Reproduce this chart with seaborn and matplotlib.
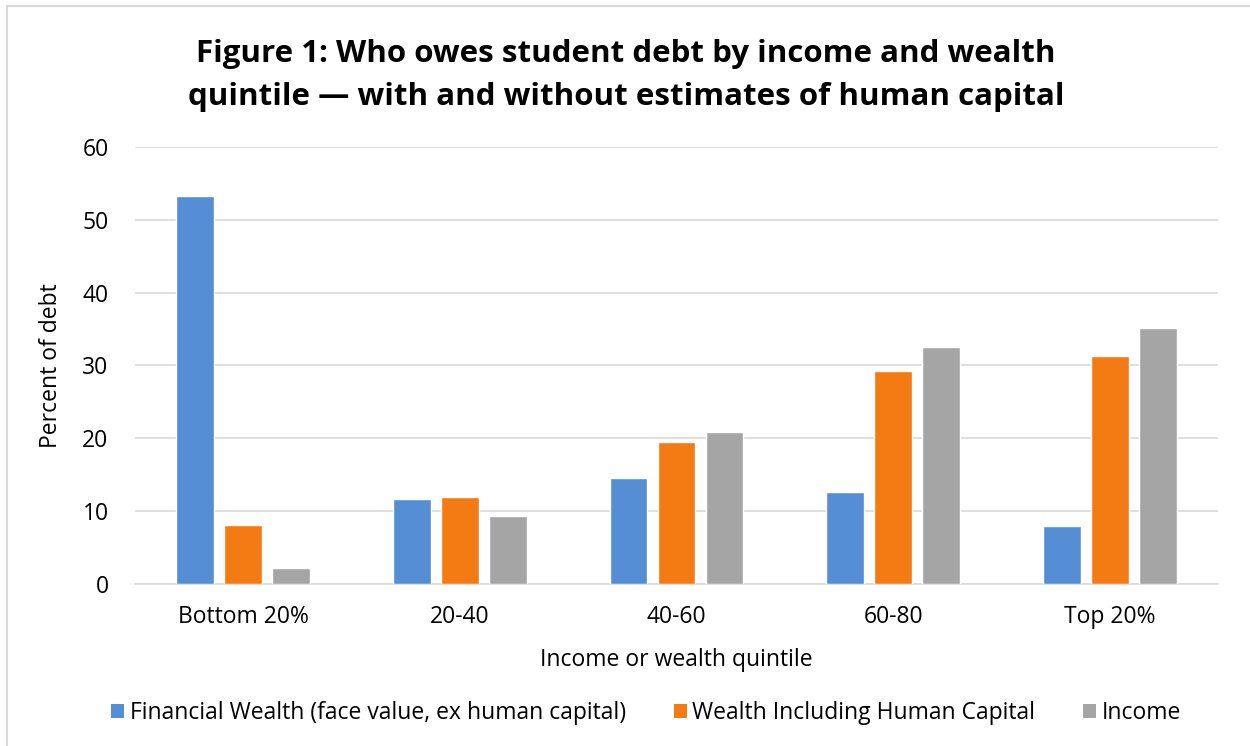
import numpy as np
import pandas as pd
import seaborn as sns
import matplotlib.pyplot as plt
from matplotlib.patches import Patch
from matplotlib.lines import Line2D

quintiles = ["Bottom 20%", "20-40", "40-60", "60-80", "Top 20%"]
series_names = [
    "Financial Wealth (face value, ex human capital)",
    "Wealth Including Human Capital",
    "Income",
]
financial_wealth = [53.3, 11.7, 14.6, 12.6, 8.0]
wealth_incl_hc = [8.1, 11.9, 19.5, 29.3, 31.3]
income = [2.2, 9.3, 20.9, 32.6, 35.2]
colors = ["#558ED5", "#F47A14", "#A5A5A5"]

df = pd.DataFrame({
    "quintile": quintiles * 3,
    "series": np.repeat(series_names, len(quintiles)),
    "value": financial_wealth + wealth_incl_hc + income,
})

sns.set_theme(style="white")
plt.rcParams["font.family"] = ["Open Sans", "DejaVu Sans"]
plt.rcParams["text.color"] = "black"
plt.rcParams["axes.labelcolor"] = "black"

fig = plt.figure(figsize=(12.5, 7.46), dpi=100)
ax = fig.add_axes([0.108, 0.2172, 0.8664, 0.5858])

sns.barplot(data=df, x="quintile", y="value", hue="series", order=quintiles,
            hue_order=series_names, palette=colors, width=0.665, gap=0.21,
            saturation=1, legend=False, ax=ax, zorder=3)

ax.set_ylim(0, 60)
ax.set_yticks(range(0, 61, 10))
ax.yaxis.grid(True, color="#D9D9D9", linewidth=1.2, zorder=0)
ax.set_axisbelow(True)
for s in ["top", "right", "left"]:
    ax.spines[s].set_visible(False)
ax.spines["bottom"].set_color("#D9D9D9")
ax.spines["bottom"].set_linewidth(1.2)
ax.tick_params(axis="both", length=0, labelsize=16.5, colors="black")
ax.tick_params(axis="x", pad=15)
ax.tick_params(axis="y", pad=19)
ax.set_xlabel("Income or wealth quintile", fontsize=16.5, labelpad=14)
ax.set_ylabel("Percent of debt", fontsize=16.5, labelpad=14)

fig.text(0.501, 0.899, "Figure 1: Who owes student debt by income and wealth\n"
         "quintile \u2014 with and without estimates of human capital",
         ha="center", va="center", fontsize=22.5, fontweight="bold",
         linespacing=1.55)

handles = [Patch(facecolor=c, edgecolor="none") for c in colors]
fig.legend(handles, series_names, loc="center", bbox_to_anchor=(0.517, 0.044),
           ncol=3, frameon=False, fontsize=16.5, handlelength=0.55,
           handleheight=0.55, handletextpad=0.25, columnspacing=2.1)

# chart frame
fig.add_artist(Line2D([7 / 1250, 1], [1 - 6 / 746, 1 - 6 / 746],
                      color="#D9D9D9", linewidth=1.5))
fig.add_artist(Line2D([7 / 1250, 7 / 1250], [0, 1 - 6 / 746],
                      color="#D9D9D9", linewidth=1.5))

fig.savefig("out.png", dpi=100)
